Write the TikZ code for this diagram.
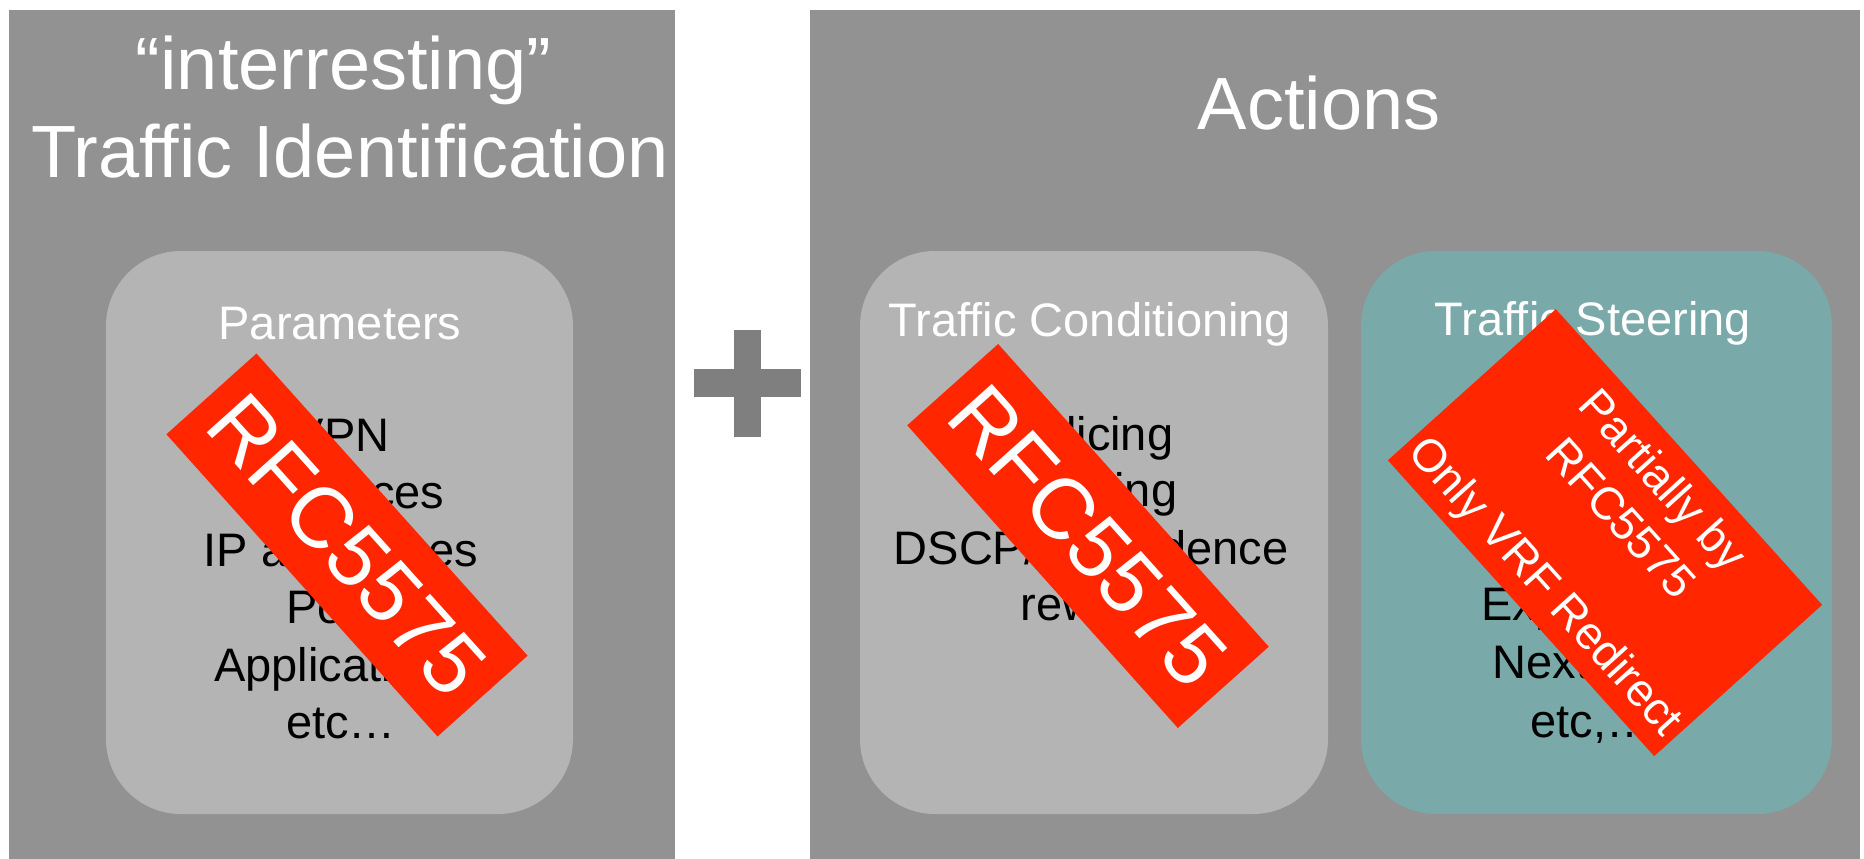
\documentclass[tikz,border=0pt]{standalone}
\usepackage{fontspec}
\setmainfont{Liberation Sans}
\definecolor{panelgray}{HTML}{929292}
\definecolor{boxgray}{HTML}{B4B4B4}
\definecolor{steerteal}{HTML}{79A9A8}
\definecolor{stampred}{HTML}{FF2600}
\definecolor{plusgray}{HTML}{7F7F7F}
\tikzset{
  panel/.style={fill=panelgray, draw=none, inner sep=0pt, minimum width=#1, minimum height=849pt},
  subbox/.style={draw=none, inner sep=0pt, rounded corners=75pt, minimum height=563pt},
  titletext/.style={text=white, font=\fontsize{74}{88}\selectfont, anchor=base, inner sep=0pt},
  headtext/.style={text=white, font=\fontsize{47}{56}\selectfont, anchor=base, inner sep=0pt},
  itemtext/.style={text=black, font=\fontsize{47}{56}\selectfont, anchor=base, inner sep=0pt},
  stamptext/.style={text=white, font=\fontsize{46}{55}\selectfont, anchor=base, inner sep=0pt, transform shape},
  rfctext/.style={text=white, font=\fontsize{86}{100}\selectfont, anchor=center, inner sep=0pt, transform shape},
}
\begin{document}
\begin{tikzpicture}[x=1pt,y=-1pt]
\useasboundingbox (0,0) rectangle (1864,859);
\fill[white] (0,0) rectangle (1864,859);

% panels
\node[panel=666pt] (leftpanel) at (342,434.5) {};
\node[panel=1050pt] (rightpanel) at (1335,434.5) {};

% inner boxes
\node[subbox, fill=boxgray, minimum width=467pt] (parbox) at (339.5,532.5) {};
\node[subbox, fill=boxgray, minimum width=468pt] (condbox) at (1094,532.5) {};
\node[subbox, fill=steerteal, minimum width=471pt] (steerbox) at (1596.5,532.5) {};

% titles
\node[titletext] (t1) at (343.5,89) {“interresting”};
\node[titletext] (t2) at (350,177) {Traffic Identification};
\node[titletext] (t3) at (1319,129) {Actions};

% box headings
\node[headtext] (h1) at (340,339) {Parameters};
\node[headtext] (h2) at (1090,336) {Traffic Conditioning};
\node[headtext] (h3) at (1593,335) {Traffic Steering};

% parameters list
\node[itemtext] (p1) at (341,451) {VPN};
\node[itemtext] (p2) at (341,508) {Interfaces};
\node[itemtext] (p3) at (341,566) {IP addresses};
\node[itemtext] (p4) at (341,623) {Ports};
\node[itemtext] (p5) at (341,681) {Applications};
\node[itemtext] (p6) at (341,738.5) {etc…};

% conditioning list
\node[itemtext] (c1) at (1091,450) {Policing};
\node[itemtext] (c2) at (1091,506) {Shaping};
\node[itemtext] (c3) at (1091,564) {DSCP/Precedence};
\node[itemtext] (c4) at (1091,620) {rewrite};

% steering list
\node[itemtext] (s1) at (1592,447) {VRF};
\node[itemtext] (s2) at (1592,504) {VLAN};
\node[itemtext] (s3) at (1592,562) {Tunnel};
\node[itemtext] (s4) at (1592,620) {Explicit TE};
\node[itemtext] (s5) at (1592,678) {Next-Hop};
\node[itemtext] (s6) at (1592,737) {etc,…};

% stamps
\begin{scope}[shift={(347,545)}, rotate=-48.1]
  \fill[stampred] (-203,-60.5) rectangle (203,60.5);
  \node[rfctext] (rfc1) at (0,0) {RFC5575};
\end{scope}
\begin{scope}[shift={(1088,536)}, rotate=-48.2]
  \fill[stampred] (-203,-61) rectangle (203,61);
  \node[rfctext] (rfc2) at (0,0) {RFC5575};
\end{scope}
\begin{scope}[shift={(1605,532.6)}, rotate=-48]
  \fill[stampred] (-199,-113) rectangle (199,113);
  \node[stamptext] (st1) at (0,-63) {Partially by};
  \node[stamptext] (st2) at (0,-6) {RFC5575};
  \node[stamptext] (st3) at (0,94) {Only VRF Redirect};
\end{scope}

% plus sign
\fill[plusgray] (694.3,369.3) rectangle (801,396.7);
\fill[plusgray] (734.3,330) rectangle (761,436.7);
\end{tikzpicture}
\end{document}
